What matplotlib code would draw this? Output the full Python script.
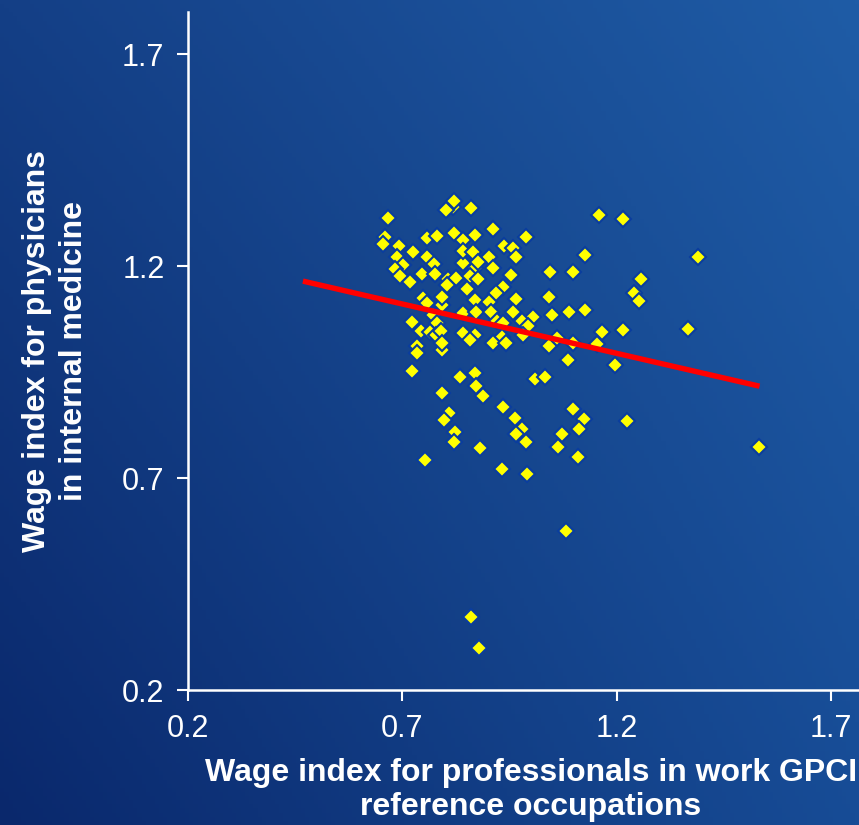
import numpy as np
import matplotlib
matplotlib.use("Agg")
from matplotlib import pyplot as plt

plt.rcParams["font.family"] = ["Liberation Sans", "DejaVu Sans"]

# wage index pairs
gpci_x = [0.818, 0.801, 0.820, 0.666, 0.659, 0.655, 0.692, 0.757, 0.780, 0.820,
          0.841, 0.724, 0.687, 0.701, 0.757, 0.773, 0.683, 0.694, 0.717, 0.745,
          0.776, 0.806, 0.825, 0.804, 0.841, 0.748, 0.757, 0.792, 0.771, 0.841,
          0.722, 0.780, 0.743, 0.764, 0.778, 0.790, 0.841, 0.860, 0.911, 0.988,
          0.869, 0.937, 0.958, 0.965, 0.841, 0.864, 0.902, 0.869, 0.876, 0.911,
          0.857, 0.876, 0.953, 1.044, 0.850, 0.934, 0.918, 0.869, 0.965, 1.042,
          0.902, 0.871, 0.906, 0.958, 1.004, 1.049, 0.920, 0.934, 0.979, 0.993,
          0.869, 0.932, 0.981, 0.734, 0.734, 0.792, 0.792, 0.722, 0.834, 0.792,
          0.808, 0.797, 0.822, 0.820, 0.752, 0.857, 0.911, 0.941, 1.042, 0.869,
          0.871, 0.888, 1.009, 1.032, 0.934, 0.962, 0.979, 0.965, 0.988, 0.881,
          0.932, 0.990, 1.081, 0.860, 0.878, 1.158, 1.214, 1.125, 1.389, 1.097,
          1.256, 1.240, 1.251, 1.088, 1.125, 1.165, 1.214, 1.366, 1.060, 1.097,
          1.153, 1.086, 1.195, 1.097, 1.123, 1.111, 1.223, 1.072, 1.062, 1.109,
          1.531, 0.792]
medicine_y = [1.339, 1.332, 1.353, 1.313, 1.268, 1.252, 1.249, 1.266, 1.271, 1.278,
              1.261, 1.233, 1.223, 1.202, 1.221, 1.205, 1.193, 1.176, 1.162, 1.181,
              1.181, 1.169, 1.172, 1.155, 1.207, 1.124, 1.113, 1.108, 1.084, 1.089,
              1.068, 1.066, 1.047, 1.044, 1.037, 1.047, 1.042, 1.337, 1.289, 1.268,
              1.273, 1.249, 1.242, 1.221, 1.237, 1.233, 1.223, 1.195, 1.209, 1.195,
              1.176, 1.169, 1.179, 1.186, 1.146, 1.150, 1.136, 1.120, 1.122, 1.127,
              1.115, 1.091, 1.091, 1.091, 1.080, 1.084, 1.072, 1.065, 1.072, 1.058,
              1.037, 1.032, 1.037, 1.011, 0.995, 1.002, 1.018, 0.952, 0.938, 0.900,
              0.853, 0.837, 0.808, 0.785, 0.742, 1.025, 1.018, 1.018, 1.013, 0.947,
              0.917, 0.893, 0.933, 0.938, 0.867, 0.841, 0.815, 0.804, 0.785, 0.771,
              0.721, 0.709, 0.575, 0.372, 0.299, 1.322, 1.311, 1.226, 1.221, 1.186,
              1.169, 1.138, 1.117, 1.091, 1.098, 1.044, 1.049, 1.051, 1.030, 1.018,
              1.016, 0.980, 0.966, 0.863, 0.839, 0.815, 0.834, 0.804, 0.773, 0.749,
              0.773, 1.127]

# trend line end points
fit_x = [0.468, 1.533]
fit_y = [1.165, 0.917]

ticks = [0.2, 0.7, 1.2, 1.7]

fig = plt.figure(figsize=(8.59, 8.25), dpi=100)

# gradient background
bg = fig.add_axes([0, 0, 1, 1], zorder=-1)
tl = np.array([20, 63, 134]) / 255
tr = np.array([31, 92, 166]) / 255
bl = np.array([10, 40, 108]) / 255
br = np.array([23, 76, 150]) / 255
u = np.linspace(0, 1, 200)[None, :, None]
v = np.linspace(0, 1, 200)[:, None, None]
grad = (1 - v) * ((1 - u) * tl + u * tr) + v * ((1 - u) * bl + u * br)
bg.imshow(grad, aspect="auto", extent=[0, 1, 0, 1])
bg.axis("off")

ax = fig.add_axes([0.2189, 0.1636, 0.7986, 0.8218])
ax.patch.set_alpha(0)

ax.plot(gpci_x, medicine_y, linestyle="none", marker="D", markersize=8,
        markerfacecolor="#ffff00", markeredgecolor="#0a3d9e", markeredgewidth=1.5, zorder=3)
ax.plot(fit_x, fit_y, color="#ff0000", linewidth=3.9, solid_capstyle="butt", zorder=4)

ax.set_xlim(0.2, 1.8)
ax.set_ylim(0.2, 1.8)
ax.set_xticks(ticks)
ax.set_yticks(ticks)
ax.set_xticklabels([str(t) for t in ticks])
ax.set_yticklabels([str(t) for t in ticks])

for side in ("top", "right"):
    ax.spines[side].set_visible(False)
for side in ("left", "bottom"):
    ax.spines[side].set_color("white")
    ax.spines[side].set_linewidth(1.8)

ax.tick_params(colors="white", labelsize=22, length=8, width=1.5, direction="out", pad=9)

ax.set_xlabel("Wage index for professionals in work GPCI\nreference occupations",
              color="white", fontsize=23, fontweight="bold", labelpad=10, linespacing=1.2)
ax.set_ylabel("Wage index for physicians\nin internal medicine",
              color="white", fontsize=23, fontweight="bold", labelpad=24, linespacing=1.3)

plt.savefig("out.png", dpi=100)
